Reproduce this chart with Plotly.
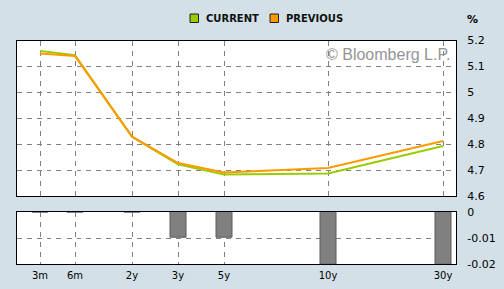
import plotly.graph_objects as go

tenors = ["3m", "6m", "2y", "3y", "5y", "10y", "30y"]
tenor_x = [0, 35, 92, 138, 184, 288, 403]
current = [5.16, 5.143, 4.829, 4.722, 4.683, 4.687, 4.793]
previous = [5.15, 5.14, 4.829, 4.727, 4.691, 4.708, 4.812]
change = [-0.0004, -0.0004, -0.0004, -0.01, -0.01, -0.02, -0.02]

BG = "#d3e0e7"
GREEN = "#99cc00"
ORANGE = "#ff9900"
FONT = "DejaVu Sans"

W, H = 504, 289
def px(x):
    return x / W
def py(y):
    return 1 - y / H

fig = go.Figure()
fig.add_trace(go.Scatter(x=tenor_x, y=current, mode="lines", line=dict(color=GREEN, width=2),
                         xaxis="x", yaxis="y", showlegend=False, hoverinfo="skip"))
fig.add_trace(go.Scatter(x=tenor_x, y=previous, mode="lines", line=dict(color=ORANGE, width=2),
                         xaxis="x", yaxis="y", showlegend=False, hoverinfo="skip"))
fig.add_trace(go.Bar(x=tenor_x, y=change, width=16, marker=dict(color="#808080", line=dict(color="#5a5a5a", width=1)),
                     xaxis="x2", yaxis="y2", showlegend=False, hoverinfo="skip"))

xrange = [-23.5, 416]
grid = dict(showgrid=True, gridcolor="#808080", gridwidth=1, griddash="5px,5px")
common_x = dict(range=xrange, domain=[px(16.5), px(456)], tickvals=tenor_x, ticktext=tenors,
                showline=True, linecolor="black", linewidth=1, mirror=True, zeroline=False,
                fixedrange=True, automargin=False, **grid)

fig.update_layout(
    template="none",
    width=W, height=H, margin=dict(l=0, r=0, t=0, b=0, pad=0, autoexpand=False),
    paper_bgcolor=BG, plot_bgcolor="white",
    font=dict(family=FONT, size=10, color="black"),
    bargap=0,
    xaxis=dict(anchor="y", showticklabels=False, **common_x),
    yaxis=dict(domain=[py(196), py(40.5)], range=[4.6, 5.2], side="right",
               tickvals=[4.6, 4.7, 4.8, 4.9, 5.0, 5.1, 5.2],
               ticktext=["4.6", "4.7", "4.8", "4.9", "5", "5.1", "5.2"],
               showline=True, linecolor="black", linewidth=1, mirror=True, zeroline=False,
               automargin=False, ticks="", ticklabelstandoff=8, tickfont=dict(size=11), **grid),
    xaxis2=dict(anchor="y2", showticklabels=True, ticks="", ticklabelstandoff=2,
                tickfont=dict(size=10), **common_x),
    yaxis2=dict(domain=[py(264.3), py(211.7)], range=[-0.02, 0], side="right",
                tickvals=[-0.02, -0.01, 0], ticktext=["-0.02", "-0.01", "0"],
                showline=True, linecolor="black", linewidth=1, mirror=True, zeroline=False,
                automargin=False, ticks="", ticklabelstandoff=8, tickfont=dict(size=11), **grid),
)

# legend (drawn manually to mimic the square swatches)
for x0, col in [(190, GREEN), (270, ORANGE)]:
    fig.add_shape(type="rect", xref="paper", yref="paper", x0=px(x0), x1=px(x0 + 8.5),
                  y0=py(22.5), y1=py(14), fillcolor=col, line=dict(color="#222222", width=1))
for x0, txt in [(204, "CURRENT"), (284, "PREVIOUS")]:
    fig.add_annotation(xref="paper", yref="paper", x=px(x0), y=py(18.5), text="<b>" + txt + "</b>",
                       showarrow=False, xanchor="left", yanchor="middle",
                       font=dict(family=FONT, size=10, color="#111111"))
fig.add_annotation(xref="paper", yref="paper", x=px(472.5), y=py(19), text="<b>%</b>",
                   showarrow=False, xanchor="center", yanchor="middle",
                   font=dict(family=FONT, size=11, color="black"))
fig.add_annotation(xref="paper", yref="paper", x=px(452), y=py(54.5), text="© Bloomberg L.P.",
                   showarrow=False, xanchor="right", yanchor="middle",
                   font=dict(family="Liberation Sans", size=16, color="#959595"))

fig.write_html("out.html")
